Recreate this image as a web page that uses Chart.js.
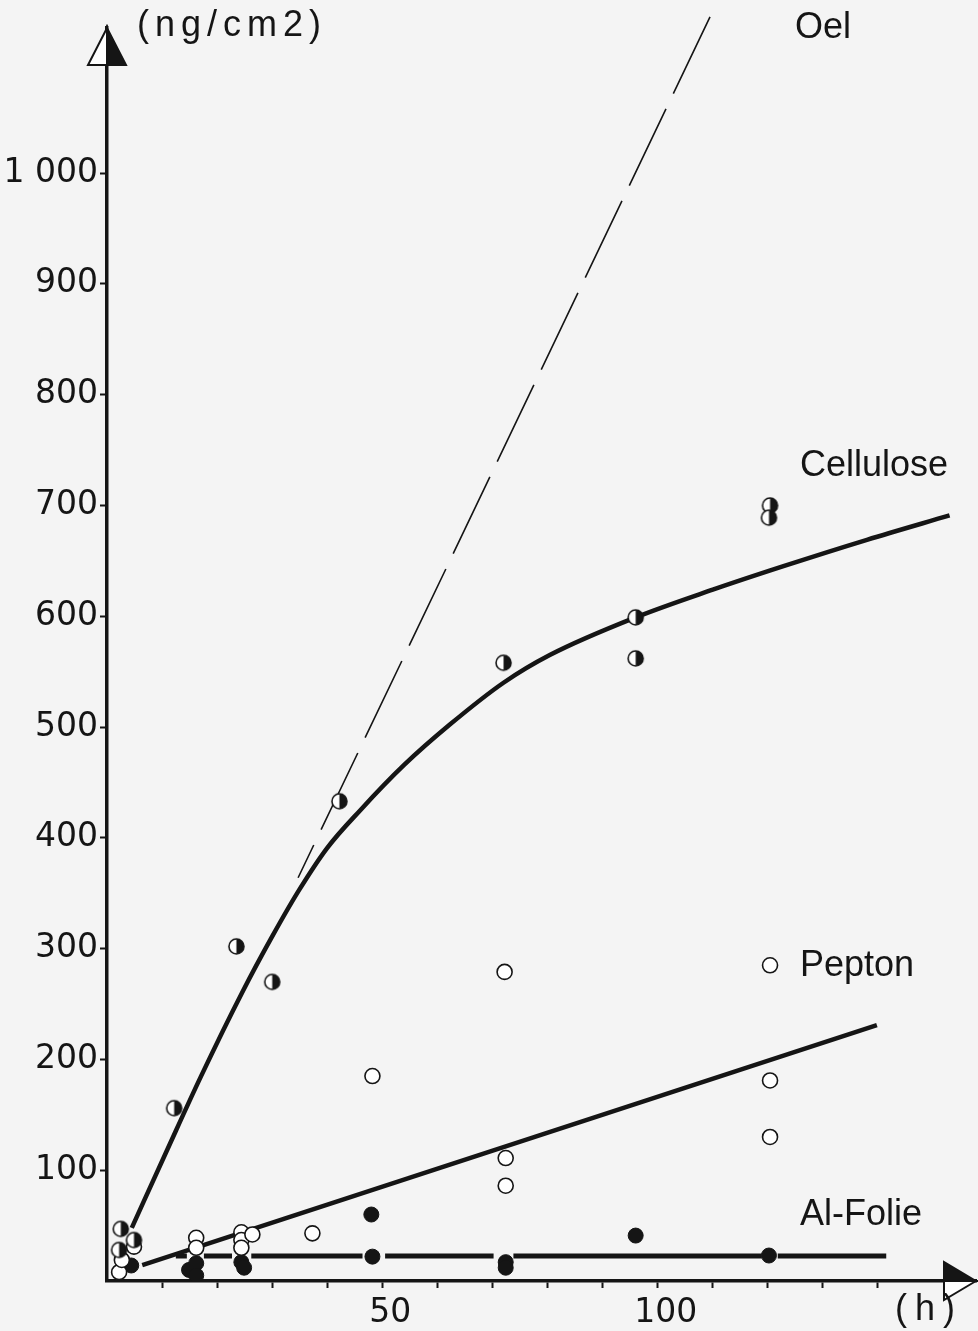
<!DOCTYPE html>
<html>
<head>
<meta charset="utf-8">
<script src="https://cdn.jsdelivr.net/npm/chart.js@4.4.1/dist/chart.umd.min.js"></script>
<style>
  html, body { margin: 0; padding: 0; background: #f4f4f4; }
  #wrap { width: 978px; height: 1331px; position: relative; }
</style>
</head>
<body>
<div id="wrap"><canvas id="c"></canvas></div>
<script>
// ---- Data (x = hours, y = ng/cm2) ----
const yTickValues = [100, 200, 300, 400, 500, 600, 700, 800, 900, 1000];
const xTickValues = [10, 20, 30, 40, 50, 60, 70, 80, 90, 100, 110, 120, 130, 140];
const xLabelledTicks = [50, 100];

const celluloseX = [2.5, 2.2, 4.9, 12.2, 23.5, 30, 42.2, 72, 96, 96, 120.4, 120.2];
const celluloseY = [47, 28, 37, 156, 302, 270, 433, 558, 599, 562, 700, 689];

const peptonX = [2.2, 2.7, 4.9, 16.2, 16.2, 24.4, 24.4, 24.4, 26.4, 37.3, 48.2, 72.2, 72.4, 72.4, 120.4, 120.4, 120.4];
const peptonY = [8, 19, 31, 39, 30, 44, 37, 30, 42, 43, 185, 279, 111, 86, 285, 181, 130];

const folieX = [4.4, 14.9, 16.2, 16.2, 24.4, 24.9, 48, 48.2, 72.4, 72.4, 96, 120.2];
const folieY = [14, 10, 16, 5, 17, 12, 60, 22, 17, 12, 41, 23];

// fitted curves
const celluloseCurveX = [4.5, 10.9, 17, 24.5, 30, 34.9, 40, 46, 54, 62.2, 72, 80.4, 96, 110, 122.7, 138, 153];
const celluloseCurveY = [48, 118, 184, 260, 311, 353, 391, 425, 466, 502, 540, 565, 599, 624, 645, 669, 691];

const peptonLineX = [6.4, 139.8];
const peptonLineY = [14.4, 231];

const oelLineX = [109.5, 34.7];
const oelLineY = [1141, 364];

// Al-Folie level line, broken around the points
const folieLevel = 22.5;
const folieSegStart = [12.5, 17.6, 26.2, 50.5, 73.8, 121.8];
const folieSegEnd   = [14.5, 22.7, 46.4, 70.2, 118.9, 141.5];

// ---- helpers ----
const BG = '#f4f4f4';
const INK = '#151515';
const zip = (xs, ys) => xs.map((x, i) => ({ x: x, y: ys[i] }));

const folieLine = [];
folieSegStart.forEach((s, i) => {
  folieLine.push({ x: s, y: folieLevel });
  folieLine.push({ x: folieSegEnd[i], y: folieLevel });
  if (i < folieSegStart.length - 1) folieLine.push({ x: (folieSegEnd[i] + folieSegStart[i + 1]) / 2, y: null });
});

function halfCircle(r) {
  const c = document.createElement('canvas');
  const s = Math.ceil(2 * r + 4);
  c.width = c.height = s;
  const g = c.getContext('2d');
  const cx = s / 2;
  g.beginPath(); g.arc(cx, cx, r, 0, Math.PI * 2); g.fillStyle = '#fff'; g.fill();
  g.beginPath(); g.arc(cx, cx, r, -Math.PI / 2, Math.PI / 2); g.closePath(); g.fillStyle = INK; g.fill();
  g.beginPath(); g.arc(cx, cx, r, 0, Math.PI * 2); g.lineWidth = 1.6; g.strokeStyle = INK; g.stroke();
  return c;
}

const bgPlugin = {
  id: 'bg',
  beforeDraw(chart) {
    const ctx = chart.ctx;
    ctx.save(); ctx.fillStyle = BG; ctx.fillRect(0, 0, chart.width, chart.height); ctx.restore();
  }
};

const decoPlugin = {
  id: 'deco',
  afterDraw(chart) {
    const ctx = chart.ctx;
    const a = chart.chartArea;
    ctx.save();
    // y-axis arrow
    const tx = a.left, ty = a.top, hw = 19, base = ty + 37;
    ctx.lineWidth = 2; ctx.strokeStyle = INK;
    ctx.beginPath(); ctx.moveTo(tx, ty); ctx.lineTo(tx - hw, base); ctx.lineTo(tx, base); ctx.closePath();
    ctx.fillStyle = '#fff'; ctx.fill(); ctx.stroke();
    ctx.beginPath(); ctx.moveTo(tx, ty); ctx.lineTo(tx + hw, base); ctx.lineTo(tx, base); ctx.closePath();
    ctx.fillStyle = INK; ctx.fill(); ctx.stroke();
    // x-axis arrow
    const rx = a.right, ry = a.bottom, rb = rx - 32;
    ctx.beginPath(); ctx.moveTo(rx, ry); ctx.lineTo(rb, ry - hw); ctx.lineTo(rb, ry); ctx.closePath();
    ctx.fillStyle = INK; ctx.fill(); ctx.stroke();
    ctx.beginPath(); ctx.moveTo(rx, ry); ctx.lineTo(rb, ry + hw); ctx.lineTo(rb, ry); ctx.closePath();
    ctx.fillStyle = '#fff'; ctx.fill(); ctx.stroke();

    // text labels
    ctx.fillStyle = INK;
    ctx.textBaseline = 'alphabetic';
    ctx.textAlign = 'left';
    ctx.font = '36px "Liberation Sans", Arial, sans-serif';
    ctx.fillText('Oel', 795, 38);
    ctx.fillText('Cellulose', 800, 476);
    ctx.fillText('Pepton', 800, 976);
    ctx.fillText('Al-Folie', 800, 1225);
    ctx.letterSpacing = '6px';
    ctx.fillText('(ng/cm2)', 137, 36);
    ctx.letterSpacing = '8px';
    ctx.fillText('(h)', 895, 1320);
    ctx.restore();
  }
};

const ctx = document.getElementById('c');
new Chart(ctx, {
  type: 'scatter',
  data: {
    datasets: [
      { label: 'Cellulose', data: zip(celluloseX, celluloseY), pointStyle: halfCircle(7.5), pointRadius: 7.5, order: 1 },
      { label: 'Pepton', data: zip(peptonX, peptonY), pointStyle: 'circle', pointRadius: 7.5,
        backgroundColor: '#fff', borderColor: INK, borderWidth: 1.6, order: 1 },
      { label: 'Al-Folie', data: zip(folieX, folieY), pointStyle: 'circle', pointRadius: 7.5,
        backgroundColor: INK, borderColor: INK, borderWidth: 1, order: 1 },
      { label: 'Cellulose fit', data: zip(celluloseCurveX, celluloseCurveY), showLine: true, pointRadius: 0,
        borderColor: INK, borderWidth: 4.5, cubicInterpolationMode: 'monotone', order: 2 },
      { label: 'Pepton fit', data: zip(peptonLineX, peptonLineY), showLine: true, pointRadius: 0,
        borderColor: INK, borderWidth: 4.5, order: 2 },
      { label: 'Al-Folie fit', data: folieLine, showLine: true, spanGaps: false, pointRadius: 0,
        borderColor: INK, borderWidth: 5, borderCapStyle: 'butt', order: 2 },
      { label: 'Oel', data: zip(oelLineX, oelLineY), showLine: true, pointRadius: 0, clip: false,
        borderColor: INK, borderWidth: 1.6, borderDash: [85, 17], order: 2 }
    ]
  },
  options: {
    responsive: true,
    maintainAspectRatio: false,
    animation: false,
    events: [],
    layout: { autoPadding: false, padding: { top: 28, right: 2, left: 0, bottom: 0 } },
    plugins: { legend: { display: false }, tooltip: { enabled: false } },
    scales: {
      x: {
        type: 'linear', min: 0, max: 157.8,
        afterFit(s) { s.height = 50; s.paddingLeft = 0; s.paddingRight = 0; },
        afterBuildTicks(s) { s.ticks = xTickValues.map(v => ({ value: v })); },
        border: { display: true, color: INK, width: 3.5 },
        grid: { drawOnChartArea: false, drawTicks: true, tickLength: 7, tickWidth: 2, color: INK },
        ticks: {
          autoSkip: false, maxRotation: 0, padding: 6, labelOffset: 8, color: INK,
          font: { family: '"DejaVu Sans", sans-serif', size: 33 },
          callback: v => xLabelledTicks.includes(v) ? String(v) : ''
        }
      },
      y: {
        type: 'linear', min: 0, max: 1131,
        afterFit(s) { s.width = 107; s.paddingTop = 0; s.paddingBottom = 0; },
        afterBuildTicks(s) { s.ticks = yTickValues.map(v => ({ value: v })); },
        border: { display: true, color: INK, width: 3.5 },
        grid: { drawOnChartArea: false, drawTicks: true, tickLength: 7, tickWidth: 2, color: INK },
        ticks: {
          autoSkip: false, padding: 2, color: INK,
          font: { family: '"DejaVu Sans", sans-serif', size: 33 },
          callback: v => v === 1000 ? '1 000' : String(v)
        }
      }
    }
  },
  plugins: [bgPlugin, decoPlugin]
});
</script>
</body>
</html>
